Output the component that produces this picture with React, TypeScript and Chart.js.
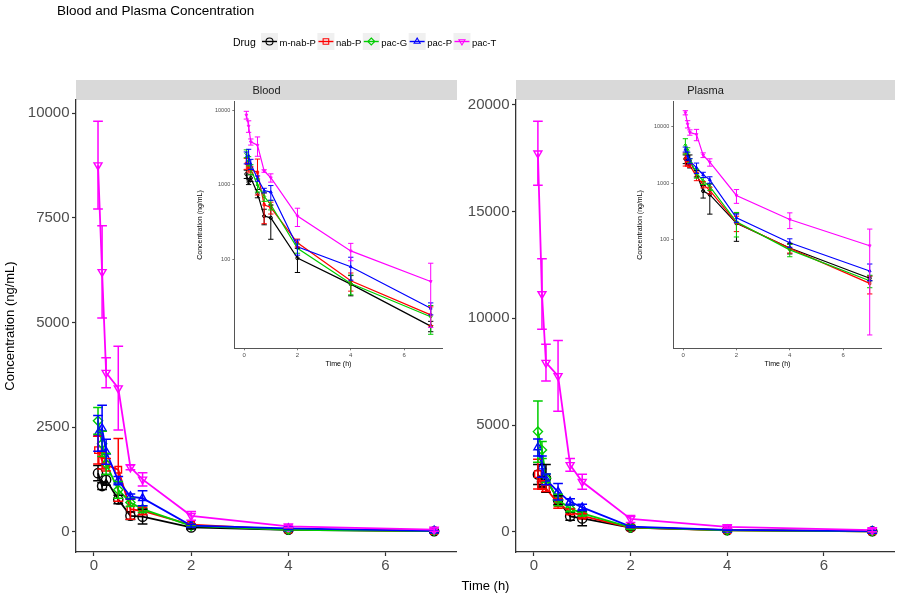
import React, { useEffect, useRef } from 'react';
import { Chart, registerables } from 'chart.js';

Chart.register(...registerables);

const FONT = "'Liberation Sans', Arial, Helvetica, sans-serif";

// ---------- text ----------
const chartTitle = 'Blood and Plasma Concentration';
const legendTitle = 'Drug';
const xAxisTitle = 'Time (h)';
const yAxisTitle = 'Concentration (ng/mL)';
const panelNames = ['Blood', 'Plasma'];

// ---------- categories ----------
const times = [0.083, 0.167, 0.25, 0.5, 0.75, 1, 2, 4, 7];
const drugs = ['m-nab-P', 'nab-P', 'pac-G', 'pac-P', 'pac-T'];
const drugColors = ['#000000', '#FF0000', '#00CD00', '#0000FF', '#FF00FF'];
const drugMarkers = ['circle', 'rect', 'rectRot', 'triangle', 'triangle'];
const drugMarkerRotation = [0, 0, 0, 0, 180];

// ---------- Blood (mean, SD) ----------
const bloodMnabP = [1400, 1090, 1240, 770, 380, 360, 103, 46, 12.5];
const bloodMnabPSd = [180, 80, 130, 100, 90, 175, 37, 14, 2];
const bloodNabP = [1950, 1700, 1600, 1480, 540, 495, 166, 51, 17.7];
const bloodNabPSd = [330, 200, 150, 750, 240, 90, 20, 14, 5];
const bloodPacG = [2650, 2100, 1620, 1000, 700, 540, 140, 47, 16.7];
const bloodPacGSd = [320, 300, 250, 200, 100, 80, 20, 14, 7];
const bloodPacP = [2350, 2470, 1910, 1220, 840, 800, 147, 79, 21.7];
const bloodPacPSd = [430, 550, 300, 100, 60, 180, 34, 27, 4];
const bloodPacT = [8760, 6210, 3800, 3430, 1540, 1250, 380, 129, 50];
const bloodPacTSd = [1050, 1100, 360, 1000, 60, 160, 105, 34, 38];

// ---------- Plasma (mean, SD) ----------
const plasmaMnabP = [2680, 2340, 2500, 1480, 720, 620, 192, 70, 20.3];
const plasmaMnabPSd = [470, 250, 650, 200, 180, 340, 100, 15, 2];
const plasmaNabP = [2700, 2190, 2030, 1330, 940, 740, 197, 69, 16.5];
const plasmaNabPSd = [700, 200, 150, 230, 120, 100, 60, 12, 5.8];
const plasmaPacG = [4690, 3830, 2500, 1490, 1090, 860, 205, 65, 18.4];
const plasmaPacGSd = [1430, 400, 200, 270, 150, 120, 95, 16, 4.6];
const plasmaPacP = [3950, 3050, 2450, 1870, 1400, 1140, 240, 87, 27.4];
const plasmaPacPSd = [400, 500, 250, 390, 150, 150, 40, 15, 9];
const plasmaPacT = [17730, 11140, 7920, 7300, 3130, 2340, 600, 225, 77];
const plasmaPacTSd = [1500, 1650, 860, 1660, 300, 350, 165, 70, 75];

// ---------- ticks ----------
const xTicks = [0, 2, 4, 6];
const bloodTicks = [0, 2500, 5000, 7500, 10000];
const plasmaTicks = [0, 5000, 10000, 15000, 20000];
const insetTicks = [100, 1000, 10000];

const bloodMeans = [bloodMnabP, bloodNabP, bloodPacG, bloodPacP, bloodPacT];
const bloodSds = [bloodMnabPSd, bloodNabPSd, bloodPacGSd, bloodPacPSd, bloodPacTSd];
const plasmaMeans = [plasmaMnabP, plasmaNabP, plasmaPacG, plasmaPacP, plasmaPacT];
const plasmaSds = [plasmaMnabPSd, plasmaNabPSd, plasmaPacGSd, plasmaPacPSd, plasmaPacTSd];

const ERR_HALF = 0.1; // half cap width in hours

type Box = { left: number; top: number; width: number; height: number };
type Area = { l: number; t: number; r: number; b: number };
type Panel = {
  key: string;
  box: Box;
  area: Area;
  yType: 'linear' | 'logarithmic';
  xMin: number;
  xMax: number;
  yMin: number;
  yMax: number;
  yTicks: number[];
  means: number[][];
  sds: number[][];
  inset: boolean;
  yTitleX?: number;
};

const mainAreas: Area[] = [
  { l: 76, t: 100, r: 457, b: 552 },
  { l: 516, t: 100, r: 895, b: 552 },
];

const panels: Panel[] = [
  {
    key: 'blood', box: { left: 0, top: 78, width: 462, height: 518 }, area: mainAreas[0],
    yType: 'linear', xMin: -0.37, xMax: 7.45, yMin: -485, yMax: 10318, yTicks: bloodTicks,
    means: bloodMeans, sds: bloodSds, inset: false,
  },
  {
    key: 'plasma', box: { left: 462, top: 78, width: 438, height: 518 }, area: mainAreas[1],
    yType: 'linear', xMin: -0.37, xMax: 7.45, yMin: -951, yMax: 20230, yTicks: plasmaTicks,
    means: plasmaMeans, sds: plasmaSds, inset: false,
  },
  {
    key: 'bloodInset', box: { left: 188, top: 94, width: 264, height: 286 }, area: { l: 234.3, t: 101.7, r: 442.7, b: 348.3 },
    yType: 'logarithmic', xMin: -0.37, xMax: 7.45, yMin: 6.28, yMax: 13222, yTicks: insetTicks,
    means: bloodMeans, sds: bloodSds, inset: true, yTitleX: 200,
  },
  {
    key: 'plasmaInset', box: { left: 628, top: 94, width: 264, height: 286 }, area: { l: 673.3, t: 101.5, r: 881.7, b: 348.3 },
    yType: 'logarithmic', xMin: -0.37, xMax: 7.45, yMin: 1.159, yMax: 28030, yTicks: insetTicks,
    means: plasmaMeans, sds: plasmaSds, inset: true, yTitleX: 640,
  },
];

function drawMarker(ctx: CanvasRenderingContext2D, style: string, rotation: number, x: number, y: number, r: number) {
  ctx.save();
  ctx.translate(x, y);
  ctx.rotate((rotation * Math.PI) / 180);
  ctx.beginPath();
  if (style === 'circle') ctx.arc(0, 0, r, 0, Math.PI * 2);
  else if (style === 'rect') { const s = r * 0.8; ctx.rect(-s, -s, 2 * s, 2 * s); }
  else if (style === 'rectRot') { ctx.moveTo(0, -r); ctx.lineTo(r, 0); ctx.lineTo(0, r); ctx.lineTo(-r, 0); ctx.closePath(); }
  else { ctx.moveTo(0, -r); ctx.lineTo(r * 0.866, r * 0.5); ctx.lineTo(-r * 0.866, r * 0.5); ctx.closePath(); }
  ctx.stroke();
  ctx.restore();
}

const errorBarPlugin = {
  id: 'errorBars',
  afterDatasetsDraw(chart: any) {
    const { ctx, chartArea } = chart;
    const xs = chart.scales.x;
    const ys = chart.scales.y;
    ctx.save();
    ctx.beginPath();
    ctx.rect(chartArea.left, chartArea.top, chartArea.right - chartArea.left, chartArea.bottom - chartArea.top);
    ctx.clip();
    chart.data.datasets.forEach((ds: any) => {
      if (!ds.sd) return;
      ctx.strokeStyle = ds.borderColor;
      ctx.lineWidth = ds.errorBarWidth;
      ds.data.forEach((pt: any, i: number) => {
        const s = ds.sd[i];
        const px = xs.getPixelForValue(pt.x);
        const hw = Math.abs(xs.getPixelForValue(pt.x + ERR_HALF) - px);
        const top = ys.getPixelForValue(pt.y + s);
        const lo = pt.y - s;
        const bot = ys.type === 'logarithmic' && lo <= 0 ? chartArea.bottom : ys.getPixelForValue(lo);
        ctx.beginPath();
        ctx.moveTo(px, top); ctx.lineTo(px, bot);
        ctx.moveTo(px - hw, top); ctx.lineTo(px + hw, top);
        ctx.moveTo(px - hw, bot); ctx.lineTo(px + hw, bot);
        ctx.stroke();
      });
    });
    ctx.restore();
  },
};

function makeConfig(p: Panel): any {
  const inset = p.inset;
  const datasets = drugs.map((name, i) => ({
    label: name,
    data: times.map((t, j) => ({ x: t, y: p.means[i][j] })),
    sd: p.sds[i],
    errorBarWidth: inset ? 1 : 1.5,
    borderColor: drugColors[i],
    backgroundColor: 'rgba(0,0,0,0)',
    pointBackgroundColor: 'rgba(0,0,0,0)',
    pointBorderColor: drugColors[i],
    pointStyle: drugMarkers[i],
    pointRotation: drugMarkerRotation[i],
    pointRadius: inset ? 1.6 : 4.6,
    pointBorderWidth: inset ? 1 : 1.4,
    borderWidth: inset ? 1.2 : 1.8,
    tension: 0,
    fill: false,
    order: drugs.length - i,
  }));

  const axisColor = inset ? '#555555' : '#333333';
  const tickColor = '#4d4d4d';
  const yW = p.area.l - p.box.left;
  const xH = p.box.top + p.box.height - p.area.b;

  const plugins: any[] = [errorBarPlugin];
  if (inset) {
    plugins.push({
      id: 'insetTitles',
      afterDraw(chart: any) {
        const { ctx, chartArea: ca } = chart;
        ctx.save();
        ctx.fillStyle = '#000';
        ctx.font = `7px ${FONT}`;
        ctx.textAlign = 'center';
        ctx.textBaseline = 'alphabetic';
        ctx.fillText(xAxisTitle, (ca.left + ca.right) / 2, ca.bottom + 18);
        ctx.translate((p.yTitleX as number) - p.box.left, (ca.top + ca.bottom) / 2);
        ctx.rotate(-Math.PI / 2);
        ctx.textBaseline = 'middle';
        ctx.fillText(yAxisTitle, 0, 0);
        ctx.restore();
      },
    });
  }

  return {
    type: 'line',
    data: { datasets },
    options: {
      animation: false,
      responsive: false,
      maintainAspectRatio: false,
      events: [],
      layout: {
        padding: {
          left: 0,
          top: p.area.t - p.box.top,
          right: p.box.left + p.box.width - p.area.r,
          bottom: 0,
        },
      },
      plugins: { legend: { display: false }, tooltip: { enabled: false }, title: { display: false } },
      scales: {
        x: {
          type: 'linear',
          min: p.xMin,
          max: p.xMax,
          afterBuildTicks: (axis: any) => { axis.ticks = xTicks.map((v) => ({ value: v })); },
          afterFit: (axis: any) => { axis.height = xH; },
          grid: { display: true, drawOnChartArea: false, drawTicks: true, tickLength: inset ? 2 : 4, tickColor: axisColor, tickWidth: inset ? 0.8 : 1.2 },
          border: { display: true, color: axisColor, width: inset ? 1 : 1.3 },
          ticks: {
            color: tickColor,
            font: { size: inset ? 6 : 15, family: FONT },
            padding: inset ? 1.5 : 1,
            maxRotation: 0,
            autoSkip: false,
            callback: (v: any) => String(v),
          },
        },
        y: {
          type: p.yType,
          min: p.yMin,
          max: p.yMax,
          afterBuildTicks: (axis: any) => { axis.ticks = p.yTicks.map((v) => ({ value: v })); },
          afterFit: (axis: any) => { axis.width = yW; },
          grid: { display: true, drawOnChartArea: false, drawTicks: true, tickLength: inset ? 2 : 4, tickColor: axisColor, tickWidth: inset ? 0.8 : 1.2 },
          border: { display: true, color: axisColor, width: inset ? 1 : 1.3 },
          ticks: {
            color: tickColor,
            font: { size: inset ? 5.5 : 15, family: FONT },
            padding: inset ? 2 : 2.5,
            autoSkip: false,
            callback: (v: any) => String(v),
          },
        },
      },
    },
    plugins,
  };
}

const decorPlugin = {
  id: 'decor',
  afterDraw(chart: any) {
    const ctx: CanvasRenderingContext2D = chart.ctx;
    ctx.save();
    // title
    ctx.fillStyle = '#000';
    ctx.textAlign = 'left';
    ctx.textBaseline = 'alphabetic';
    ctx.font = `13.5px ${FONT}`;
    ctx.fillText(chartTitle, 57, 15);

    // legend
    ctx.font = `10.5px ${FONT}`;
    ctx.fillText(legendTitle, 233, 46);
    let kx = 261;
    const ky = 33;
    const ks = 17;
    drugs.forEach((name, i) => {
      ctx.fillStyle = '#f0f0f0';
      ctx.fillRect(kx, ky, ks, ks);
      ctx.strokeStyle = drugColors[i];
      ctx.lineWidth = 1.4;
      ctx.beginPath();
      ctx.moveTo(kx + 1, ky + ks / 2);
      ctx.lineTo(kx + ks - 1, ky + ks / 2);
      ctx.stroke();
      ctx.lineWidth = 1.1;
      drawMarker(ctx, drugMarkers[i], drugMarkerRotation[i], kx + ks / 2, ky + ks / 2, 3.5);
      ctx.fillStyle = '#000';
      ctx.font = `9.5px ${FONT}`;
      ctx.fillText(name, kx + ks + 1.5, 45.5);
      kx += ks + 1.5 + ctx.measureText(name).width + 1.5;
    });

    // strips
    mainAreas.forEach((a, i) => {
      ctx.fillStyle = '#d9d9d9';
      ctx.fillRect(a.l, 80, a.r - a.l, 20);
      ctx.fillStyle = '#1a1a1a';
      ctx.font = `11px ${FONT}`;
      ctx.textAlign = 'center';
      ctx.fillText(panelNames[i], (a.l + a.r) / 2, 94);
    });

    // axis titles
    ctx.fillStyle = '#000';
    ctx.font = `13px ${FONT}`;
    ctx.textAlign = 'center';
    ctx.fillText(xAxisTitle, (mainAreas[0].l + mainAreas[1].r) / 2, 590);
    ctx.translate(10, (mainAreas[0].t + mainAreas[0].b) / 2);
    ctx.rotate(-Math.PI / 2);
    ctx.textBaseline = 'middle';
    ctx.fillText(yAxisTitle, 0, 0);
    ctx.restore();
  },
};

export default function App() {
  const bgRef = useRef<HTMLCanvasElement | null>(null);
  const refs = useRef<(HTMLCanvasElement | null)[]>([]);

  useEffect(() => {
    document.body.style.margin = '0';
    const charts: Chart[] = [];
    if (bgRef.current) {
      charts.push(
        new Chart(bgRef.current, {
          type: 'line',
          data: { datasets: [] },
          options: {
            animation: false,
            responsive: false,
            events: [],
            plugins: { legend: { display: false }, tooltip: { enabled: false } },
            scales: { x: { display: false }, y: { display: false } },
          },
          plugins: [decorPlugin],
        } as any)
      );
    }
    panels.forEach((p, i) => {
      const c = refs.current[i];
      if (c) charts.push(new Chart(c, makeConfig(p)));
    });
    return () => charts.forEach((c) => c.destroy());
  }, []);

  return (
    <div style={{ position: 'relative', width: 900, height: 596, background: '#ffffff', overflow: 'hidden' }}>
      <canvas ref={bgRef} width={900} height={596} style={{ position: 'absolute', left: 0, top: 0 }} />
      {panels.map((p, i) => (
        <canvas
          key={p.key}
          ref={(el) => { refs.current[i] = el; }}
          width={p.box.width}
          height={p.box.height}
          style={{ position: 'absolute', left: p.box.left, top: p.box.top }}
        />
      ))}
    </div>
  );
}
